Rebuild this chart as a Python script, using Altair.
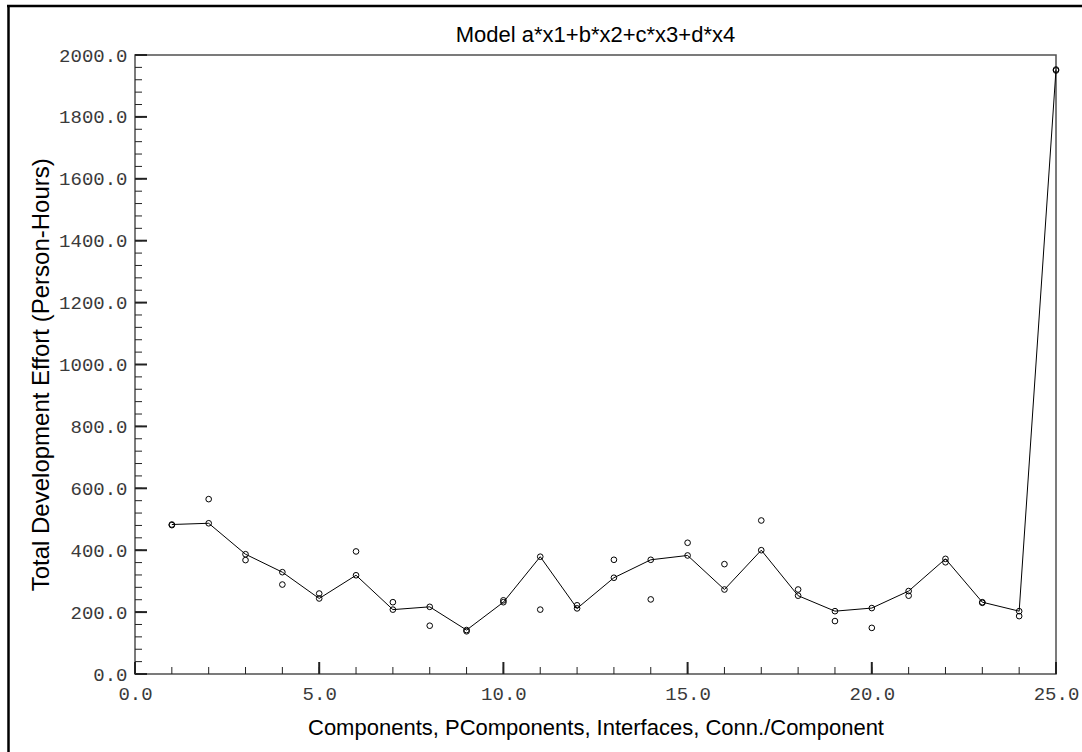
import altair as alt
import pandas as pd

# ---- data ----
x_vals = list(range(1, 26))
predicted = [483, 487, 387, 329, 244, 319, 208, 217, 142, 232, 379, 212, 311,
             369, 383, 273, 400, 253, 203, 213, 268, 372, 232, 203, 1953]
actual = [481, 565, 368, 289, 260, 396, 232, 156, 138, 238, 208, 222, 369,
          241, 424, 355, 496, 273, 171, 149, 253, 361, 230, 187, 1950]

x_major = [0, 5, 10, 15, 20, 25]
x_minor = list(range(0, 26))
y_major = list(range(0, 2001, 200))
y_minor = list(range(0, 2001, 40))

title_text = "Model a*x1+b*x2+c*x3+d*x4"
x_title = "Components, PComponents, Interfaces, Conn./Component"
y_title = "Total Development Effort (Person-Hours)"

df = pd.DataFrame({"x": x_vals, "predicted": predicted, "actual": actual})
frame_df = pd.DataFrame({"k": [0]})

W, H = 921, 619
MONO = "Liberation Mono"
SANS = "Liberation Sans"
xs = alt.Scale(domain=[0, 25], nice=False, zero=False)
ys = alt.Scale(domain=[0, 2000], nice=False)

x_main = alt.Axis(orient="bottom", values=x_major, format=".1f", ticks=False, tickSize=0,
                  domain=False, grid=False, labelFont=MONO, labelFontSize=19,
                  labelColor="#3a3a3a", labelPadding=25, labelBaseline="alphabetic",
                  labelFlush=False, labelOverlap=False, title=x_title, titleFont=SANS,
                  titleFontSize=22, titleFontWeight="normal", titleColor="black",
                  titleBaseline="alphabetic", titleX=W / 2, titleY=60)
y_main = alt.Axis(orient="left", values=y_major, format=".1f", ticks=False, tickSize=0,
                  domain=False, grid=False, labelFont=MONO, labelFontSize=19,
                  labelColor="#3a3a3a", labelPadding=8, labelFlush=False, labelOverlap=False,
                  title=y_title, titleFont=SANS, titleFontSize=24, titleFontWeight="normal",
                  titleColor="black", titleBaseline="alphabetic", titleAngle=270,
                  titleX=-86.7, titleY=319.3)

base = alt.Chart(df)

line = base.mark_line(color="black", strokeWidth=1).encode(
    x=alt.X("x:Q", scale=xs, axis=x_main),
    y=alt.Y("predicted:Q", scale=ys, axis=y_main),
)
pts_pred = base.mark_point(shape="circle", size=32, filled=False, color="black",
                           strokeWidth=1, opacity=1).encode(
    x=alt.X("x:Q", scale=xs, axis=None),
    y=alt.Y("predicted:Q", scale=ys, axis=None),
)
pts_act = base.mark_point(shape="circle", size=32, filled=False, color="black",
                          strokeWidth=1, opacity=1).encode(
    x=alt.X("x:Q", scale=xs, axis=None),
    y=alt.Y("actual:Q", scale=ys, axis=None),
)


def x_ticks(values, length, width):
    return alt.Chart(pd.DataFrame({"v": values})).mark_rule(
        color="#222", strokeWidth=width).encode(
        x=alt.X("v:Q", scale=xs, axis=None),
        y=alt.value(H), y2=alt.value(H - length),
    )


def y_ticks(values, length, width):
    return alt.Chart(pd.DataFrame({"v": values})).mark_rule(
        color="#222", strokeWidth=width).encode(
        y=alt.Y("v:Q", scale=ys, axis=None),
        x=alt.value(0), x2=alt.value(length),
    )


top_rule = alt.Chart(frame_df).mark_rule(color="black", strokeWidth=2.5).encode(
    x=alt.value(-128), x2=alt.value(947), y=alt.value(-49)
)
left_rule = alt.Chart(frame_df).mark_rule(color="black", strokeWidth=2.5).encode(
    x=alt.value(-126.5), y=alt.value(-50), y2=alt.value(697)
)

chart = alt.layer(
    top_rule, left_rule,
    x_ticks(x_minor, 7, 1), x_ticks(x_major, 12, 2),
    y_ticks(y_minor, 7, 1), y_ticks(y_major, 12, 2),
    line, pts_pred, pts_act,
).resolve_axis(x="independent", y="independent").properties(
    width=W, height=H,
    padding={"left": 135, "top": 55, "right": 26, "bottom": 78},
    autosize=alt.AutoSizeParams(type="none"),
    title=alt.Title(title_text, font=SANS, fontSize=22, fontWeight="normal",
                    color="black", anchor="middle", frame="group",
                    baseline="alphabetic", offset=0, dy=60),
    background="white",
).configure_view(stroke="#505050", strokeWidth=1.5)

chart.save("out.html", embed_options={"renderer": "svg", "actions": False})
